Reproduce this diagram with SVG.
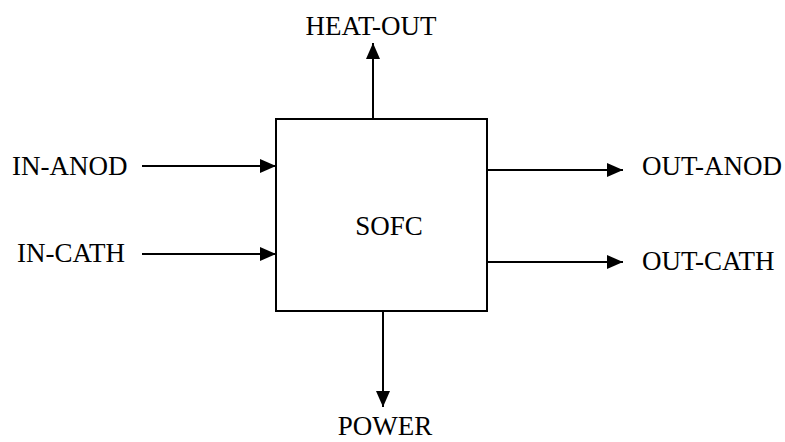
<svg xmlns="http://www.w3.org/2000/svg" width="785" height="442" viewBox="0 0 785 442">
<style>
text{font-family:"Liberation Serif","Times New Roman",serif;font-size:27px;fill:#000}
.c{stroke:#000;stroke-width:2;fill:none}
</style>
<defs>
<marker id="ah" viewBox="0 0 16 14" refX="16" refY="7" markerWidth="16" markerHeight="14" markerUnits="userSpaceOnUse" orient="auto">
<path d="M0,0 L16,7 L0,14 Z" fill="#000"/>
</marker>
</defs>
<rect width="785" height="442" fill="#fff"/>
<g id="connectors">
<line class="c" x1="373" y1="119" x2="373" y2="43" marker-end="url(#ah)"/>
<line class="c" x1="142" y1="166" x2="276" y2="166" marker-end="url(#ah)"/>
<line class="c" x1="142" y1="254" x2="276" y2="254" marker-end="url(#ah)"/>
<line class="c" x1="487" y1="170" x2="623" y2="170" marker-end="url(#ah)"/>
<line class="c" x1="487" y1="262" x2="623" y2="262" marker-end="url(#ah)"/>
<line class="c" x1="383" y1="311" x2="383" y2="407" marker-end="url(#ah)"/>
</g>
<g id="sofc">
<rect class="c" x="276" y="119" width="211" height="192"/>
<text x="389" y="235" text-anchor="middle">SOFC</text>
</g>
<g id="heat-out"><text x="371" y="35" text-anchor="middle">HEAT-OUT</text></g>
<g id="in-anod"><text x="12" y="175">IN-ANOD</text></g>
<g id="in-cath"><text x="17" y="262">IN-CATH</text></g>
<g id="out-anod"><text x="642" y="175">OUT-ANOD</text></g>
<g id="out-cath"><text x="642" y="270">OUT-CATH</text></g>
<g id="power"><text x="385" y="435" text-anchor="middle">POWER</text></g>
</svg>
